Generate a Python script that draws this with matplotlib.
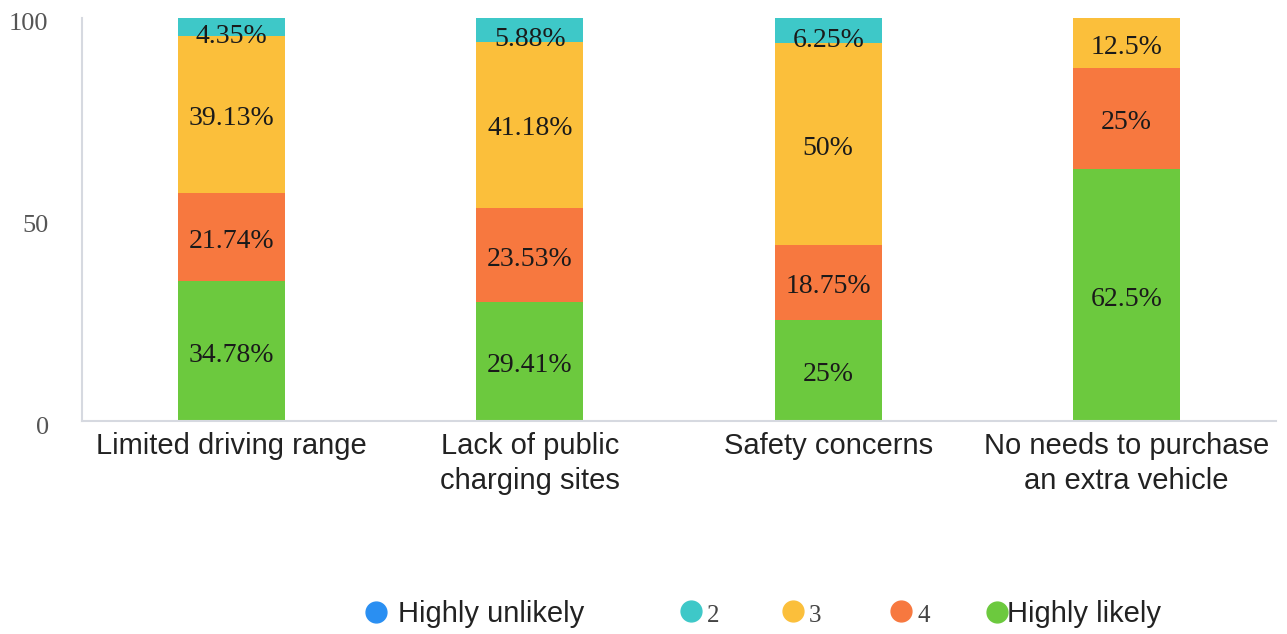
import numpy as np
import matplotlib.pyplot as plt
import matplotlib.transforms as mtransforms
from matplotlib.lines import Line2D

# Likelihood ratings (percent of respondents) for each reason
categories = ["Limited driving range", "Lack of public\ncharging sites",
              "Safety concerns", "No needs to purchase\nan extra vehicle"]
series_names = ["Highly unlikely", "2", "3", "4", "Highly likely"]
highly_unlikely = [0, 0, 0, 0]
rating_2 = [4.35, 5.88, 6.25, 0]
rating_3 = [39.13, 41.18, 50, 12.5]
rating_4 = [21.74, 23.53, 18.75, 25]
highly_likely = [34.78, 29.41, 25, 62.5]
yticks = [0, 50, 100]

colors = {"Highly unlikely": "#2a8ff2", "2": "#3ec8c8", "3": "#fbbf3b",
          "4": "#f7783f", "Highly likely": "#6cc93e"}

SERIF = "Liberation Serif"
SANS = "Liberation Sans"
W, H = 1287, 634

fig = plt.figure(figsize=(W / 100, H / 100), dpi=100)
ax = fig.add_axes([82 / W, 1 - 421 / H, (1276 - 82) / W, (421 - 18) / H])

x = np.arange(len(categories))
width = 0.358
# stack from the bottom: Highly likely, 4, 3, 2, Highly unlikely
stack = [("Highly likely", highly_likely), ("4", rating_4), ("3", rating_3),
         ("2", rating_2), ("Highly unlikely", highly_unlikely)]
bottom = np.zeros(len(categories))
for name, vals in stack:
    vals = np.array(vals, dtype=float)
    ax.bar(x, vals, width, bottom=bottom, color=colors[name], linewidth=0)
    for xi, b, v in zip(x, bottom, vals):
        if v > 0:
            txt = ("%g" % v) + "%"
            dy = -7 if v < 10 else -3
            ax.annotate(txt, (xi, b + v / 2), xytext=(0, dy), textcoords="offset points",
                        ha="center", va="center", fontsize=20, family=SERIF,
                        color="#1a1a1a")
    bottom += vals

ax.set_xlim(-0.5, 3.5)
ax.set_ylim(0, 100)
ax.set_yticks(yticks)
ax.set_yticklabels([str(t) for t in yticks], family=SERIF, fontsize=19, color="#555555")
ax.tick_params(axis="y", length=0, pad=24)
shift_down = mtransforms.ScaledTranslation(0, -4 / 100, fig.dpi_scale_trans)
for lbl in ax.get_yticklabels():
    lbl.set_transform(lbl.get_transform() + shift_down)
ax.set_xticks(x)
ax.set_xticklabels(categories, family=SANS, fontsize=21, color="#222222", linespacing=1.3)
ax.tick_params(axis="x", length=0, pad=8)
for s in ["top", "right"]:
    ax.spines[s].set_visible(False)
for s in ["left", "bottom"]:
    ax.spines[s].set_color("#d6d9e0")
    ax.spines[s].set_linewidth(1.5)

# one legend per entry so the spacing between entries can vary
marker_x = [376, 691, 793, 901, 997]
text_pad = [0.25, 0.05, 0.05, 0.05, -0.15]
fs = 21
em = fs * 100 / 72
for name, mx, pad in zip(series_names, marker_x, text_pad):
    h = Line2D([], [], marker="o", linestyle="none", markersize=15,
               markerfacecolor=colors[name], markeredgecolor=colors[name])
    leg = fig.legend([h], [name], loc="center left",
                     bbox_to_anchor=((mx - 0.5 * em) / W, 1 - 614 / H),
                     frameon=False, handlelength=1.0, handletextpad=pad,
                     borderpad=0, borderaxespad=0,
                     prop={"family": SANS, "size": fs})
    for t in leg.get_texts():
        t.set_color("#222222")
        if name in ("2", "3", "4"):
            t.set_fontfamily(SERIF)
            t.set_fontsize(18)
            t.set_color("#444444")

fig.savefig("out.png", dpi=100)
